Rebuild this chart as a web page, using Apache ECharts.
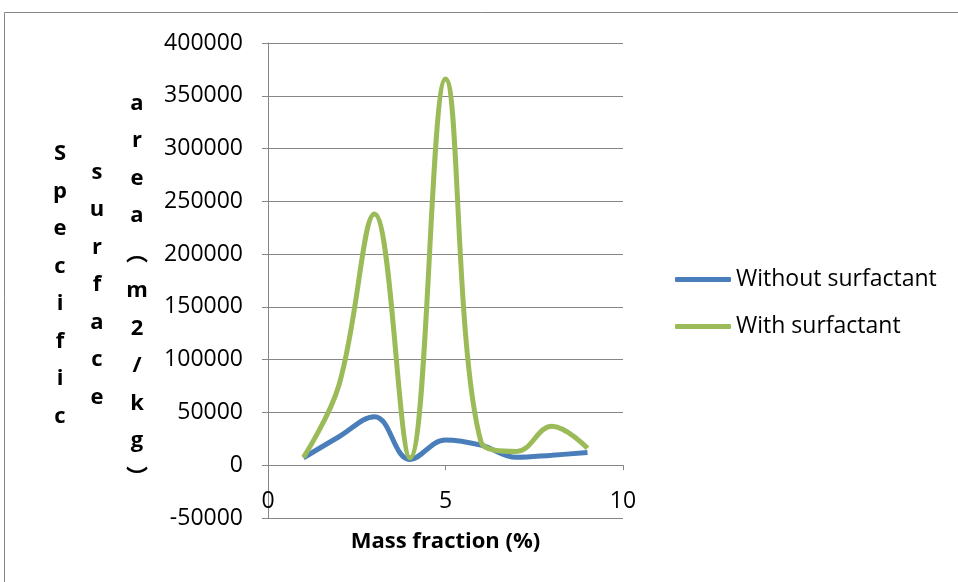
<!DOCTYPE html>
<html>
<head>
<meta charset="utf-8">
<script src="https://cdn.jsdelivr.net/npm/echarts@6/dist/echarts.min.js"></script>
<style>
  html, body { margin: 0; padding: 0; background: #fff; }
  #main { width: 958px; height: 582px; }
</style>
</head>
<body>
<div id="main"></div>
<script>
// mass fraction (%) on the x axis
const massFraction = [1, 2, 3, 4, 5, 6, 7, 8, 9];
// specific surface area (m2/kg)
const withoutSurfactant = [7000, 27000, 46000, 5500, 24000, 19000, 7500, 9500, 12000];
const withSurfactant = [7500, 76000, 238000, 7000, 366000, 22000, 13000, 37000, 16000];
const seriesNames = ['Without surfactant', 'With surfactant'];
// y title is drawn as stacked letters in three columns
const yTitleColumns = [
  ['S', 'p', 'e', 'c', 'i', 'f', 'i', 'c'],
  ['s', 'u', 'r', 'f', 'a', 'c', 'e'],
  ['a', 'r', 'e', 'a', '︵', 'm', '2', '/', 'k', 'g', '︶']
];

const FONT = '"Open Sans", "Noto Sans CJK SC", sans-serif';
const gridColor = '#868686';

const chart = echarts.init(document.getElementById('main'));

const colX = [60, 97, 137];
const colY = [285, 285, 291];

const option = {
  animation: false,
  textStyle: { fontFamily: FONT },
  grid: { left: 268, right: 335, top: 43, bottom: 64, containLabel: false, outerBoundsMode: 'none' },
  legend: {
    orient: 'vertical',
    left: 670,
    top: 263,
    itemWidth: 56,
    itemHeight: 5,
    itemGap: 24,
    icon: 'roundRect',
    textStyle: { fontFamily: FONT, fontSize: 23, color: '#000' },
    data: seriesNames
  },
  xAxis: {
    type: 'value',
    min: 0,
    max: 10,
    interval: 5,
    name: 'Mass fraction (%)',
    nameLocation: 'middle',
    nameGap: 13,
    nameTextStyle: { fontFamily: FONT, fontSize: 22, fontWeight: 'bold', color: '#000' },
    axisLine: { onZero: true, lineStyle: { color: gridColor, width: 1 } },
    axisTick: { show: true, length: 5, lineStyle: { color: gridColor } },
    axisLabel: { margin: -28, fontSize: 23, color: '#000', fontFamily: FONT },
    splitLine: { show: false }
  },
  yAxis: {
    type: 'value',
    min: -50000,
    max: 400000,
    interval: 50000,
    axisLine: { show: true, lineStyle: { color: gridColor, width: 1 } },
    axisTick: { show: true, length: 6, lineStyle: { color: gridColor } },
    axisLabel: {
      margin: 25,
      fontSize: 23,
      color: '#000',
      fontFamily: FONT,
      formatter: v => String(v)
    },
    splitLine: { show: true, lineStyle: { color: gridColor, width: 1 } }
  },
  series: [
    {
      name: seriesNames[0],
      type: 'line',
      smooth: 0.4,
      symbol: 'none',
      lineStyle: { color: '#4a7ebb', width: 5 },
      itemStyle: { color: '#4a7ebb' },
      data: massFraction.map((x, i) => [x, withoutSurfactant[i]])
    },
    {
      name: seriesNames[1],
      type: 'line',
      smooth: 0.4,
      symbol: 'none',
      lineStyle: { color: '#9bbb59', width: 5 },
      itemStyle: { color: '#9bbb59' },
      data: massFraction.map((x, i) => [x, withSurfactant[i]])
    }
  ],
  graphic: [
    {
      type: 'rect',
      shape: { x: 4.5, y: 12.5, width: 1000, height: 1000 },
      style: { fill: 'none', stroke: gridColor, lineWidth: 1 },
      silent: true
    }
  ].concat(yTitleColumns.map((letters, i) => ({
    type: 'text',
    x: colX[i],
    y: colY[i],
    style: {
      text: letters.join('\n'),
      font: 'bold 22px ' + FONT,
      lineHeight: 37.5,
      textAlign: 'center',
      textVerticalAlign: 'middle',
      fill: '#000'
    }
  })))
};

chart.setOption(option);
</script>
</body>
</html>
